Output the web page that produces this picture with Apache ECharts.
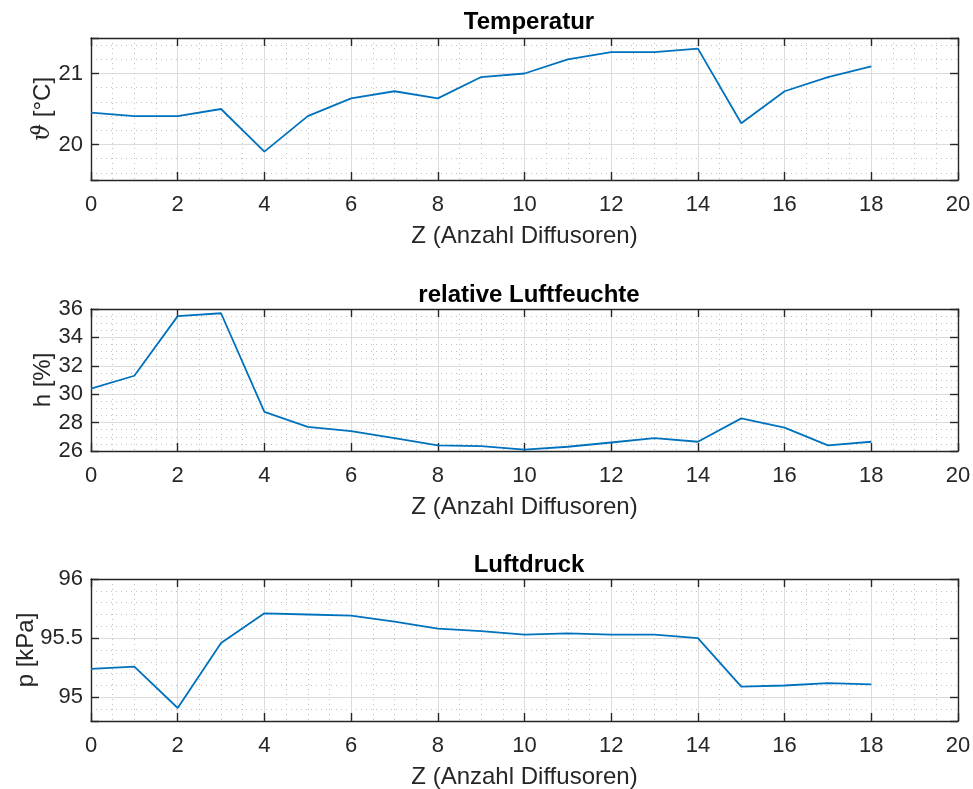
<!DOCTYPE html>
<html>
<head>
<meta charset="utf-8">
<title>Messung Diffusoren</title>
<script src="https://cdn.jsdelivr.net/npm/echarts@6/dist/echarts.min.js"></script>
<style>
    html, body { margin: 0; padding: 0; background: #fff; }
    #main { width: 973px; height: 789px; }
</style>
</head>
<body>
<div id="main"></div>
<script>
// Messwerte je Anzahl Diffusoren
var zWerte = [0, 1, 2, 3, 4, 5, 6, 7, 8, 9, 10, 11, 12, 13, 14, 15, 16, 17, 18];
var temperatur = [20.45, 20.40, 20.40, 20.50, 19.90, 20.40, 20.65, 20.75, 20.65, 20.95,
                  21.00, 21.20, 21.30, 21.30, 21.35, 20.30, 20.75, 20.95, 21.10];
var feuchte = [30.4, 31.3, 35.5, 35.7, 28.75, 27.7, 27.4, 26.9, 26.4, 26.35,
               26.1, 26.3, 26.6, 26.9, 26.65, 28.3, 27.65, 26.4, 26.65];
var druck = [95.24, 95.26, 94.91, 95.46, 95.71, 95.70, 95.69, 95.64, 95.58, 95.56,
             95.53, 95.54, 95.53, 95.53, 95.50, 95.09, 95.10, 95.12, 95.11];

// Achsbeschriftungen
var zTicks = [0, 2, 4, 6, 8, 10, 12, 14, 16, 18, 20];
var tempTicks = [20, 21];
var feuchteTicks = [26, 28, 30, 32, 34, 36];
var druckTicks = [95, 95.5, 96];

var FONT = "'Liberation Sans', Arial, Helvetica, sans-serif";
var AXIS = '#262626';
var MAJOR = '#dcdcdc';
var G = '#c2c2c2';          // feines Gitter (gepunktet)
var T = 'rgba(0,0,0,0)';    // ausgeblendete Linie

var panels = [
    {title: 'Temperatur', name: '{t|ϑ} [°C]', nameGap: 36, top: 38, titleTop: 5,
     min: 19.5, max: 21.5, major: 1, minor: 0.1,
     minorColors: [T, G, T, G, T, T, T, G, T, G], ticks: tempTicks, data: temperatur},
    {title: 'relative Luftfeuchte', name: 'h [%]', nameGap: 36, top: 309, titleTop: 278,
     min: 26, max: 36, major: 2, minor: 0.5,
     minorColors: [T, G, G, G], ticks: feuchteTicks, data: feuchte},
    {title: 'Luftdruck', name: 'p [kPa]', nameGap: 53, top: 579, titleTop: 548,
     min: 94.8, max: 96, major: 0.5, minor: 0.1,
     minorColors: [G, G, T, G, G], ticks: druckTicks, data: druck}
];

//nur Werte aus der Liste beschriften
function tickFormatter(ticks) {
    return function (v) {
        return ticks.indexOf(+(+v).toFixed(3)) >= 0 ? String(+(+v).toFixed(3)) : '';
    };
}

var titles = [], grids = [], xAxes = [], yAxes = [], series = [];

panels.forEach(function (p, i) {
    titles.push({
        text: p.title, left: 524, top: p.titleTop, textAlign: 'center',
        textStyle: {fontFamily: FONT, fontSize: 24, fontWeight: 'bold', color: '#000'}
    });
    grids.push({left: 91, right: 15, top: p.top, height: 142, containLabel: false, outerBoundsMode: 'none'});

    var axisLine = {show: true, onZero: false, lineStyle: {color: AXIS, width: 1.4}};
    var axisTick = {show: true, inside: true, length: 8, lineStyle: {color: AXIS, width: 1.4}};

    // x unten
    xAxes.push({
        type: 'value', gridIndex: i, position: 'bottom', min: 0, max: 20, interval: 2,
        name: 'Z (Anzahl Diffusoren)', nameLocation: 'middle', nameGap: 44, nameMoveOverlap: false,
        nameTextStyle: {fontFamily: FONT, fontSize: 24, color: AXIS},
        axisLine: axisLine, axisTick: axisTick,
        axisLabel: {fontFamily: FONT, fontSize: 22, color: AXIS, margin: 14, formatter: tickFormatter(zTicks)},
        splitLine: {show: true, lineStyle: {color: MAJOR, width: 1}},
        minorTick: {show: false, splitNumber: 4},
        minorSplitLine: {show: true, lineStyle: {color: G, width: 1, type: [1, 4]}}
    });
    // x oben (Rahmen)
    xAxes.push({
        type: 'value', gridIndex: i, position: 'top', min: 0, max: 20, interval: 2,
        axisLine: axisLine, axisTick: axisTick,
        axisLabel: {show: false}, splitLine: {show: false}
    });

    // y links
    yAxes.push({
        type: 'value', gridIndex: i, position: 'left', min: p.min, max: p.max,
        minInterval: p.major, maxInterval: p.major,
        name: p.name, nameLocation: 'middle', nameGap: p.nameGap, nameRotate: 90, nameMoveOverlap: false,
        nameTextStyle: {fontFamily: FONT, fontSize: 24, color: AXIS,
            rich: {t: {fontFamily: "'DejaVu Serif', serif", fontStyle: 'italic', fontSize: 24, color: AXIS}}},
        axisLine: axisLine, axisTick: axisTick,
        axisLabel: {fontFamily: FONT, fontSize: 22, color: AXIS, margin: 8, formatter: tickFormatter(p.ticks)},
        splitLine: {show: true, lineStyle: {color: MAJOR, width: 1}}
    });
    // y rechts (Rahmen)
    yAxes.push({
        type: 'value', gridIndex: i, position: 'right', min: p.min, max: p.max,
        minInterval: p.major, maxInterval: p.major,
        axisLine: axisLine, axisTick: axisTick,
        axisLabel: {show: false}, splitLine: {show: false}
    });
    // feines Gitter
    yAxes.push({
        type: 'value', gridIndex: i, position: 'left', min: p.min, max: p.max, interval: p.minor,
        axisLine: {show: false}, axisTick: {show: false}, axisLabel: {show: false},
        splitLine: {show: true, lineStyle: {color: p.minorColors, width: 1, type: [1, 4]}}
    });

    series.push({
        type: 'line', xAxisIndex: i * 2, yAxisIndex: i * 3,
        data: zWerte.map(function (z, k) { return [z, p.data[k]]; }),
        showSymbol: false, symbol: 'none',
        lineStyle: {color: '#0072BD', width: 1.8},
        z: 5
    });
});

var myChart = echarts.init(document.getElementById('main'));
myChart.setOption({
    animation: false,
    backgroundColor: '#fff',
    title: titles,
    grid: grids,
    xAxis: xAxes,
    yAxis: yAxes,
    series: series
});
</script>
</body>
</html>
